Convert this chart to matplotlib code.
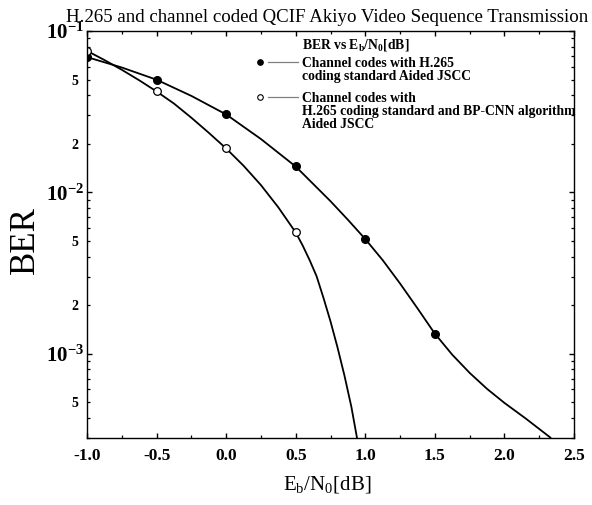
import matplotlib
matplotlib.use("Agg")
import matplotlib.pyplot as plt
from matplotlib.lines import Line2D
from matplotlib.ticker import FixedLocator, FixedFormatter, MultipleLocator

plt.rcParams['font.family'] = ['Liberation Serif', 'DejaVu Serif']
plt.rcParams['mathtext.fontset'] = 'custom'
plt.rcParams['mathtext.rm'] = 'Liberation Serif'
plt.rcParams['mathtext.bf'] = 'Liberation Serif:bold'

# ---- data ----
snr_marks = [-1.0, -0.5, 0.0, 0.5, 1.0, 1.5]
ber_h265 = [0.0689, 0.0499, 0.0304, 0.0145, 0.00513, 0.00133]

snr_marks_cnn = [-1.0, -0.5, 0.0, 0.5]
ber_h265_cnn = [0.0753, 0.0422, 0.0187, 0.00564]

# curves
curve_x_h265 = [-1.0, -0.75, -0.5, -0.25, 0.0, 0.25, 0.5, 0.75, 0.875, 1.0, 1.125, 1.25, 1.375,
                1.5, 1.625, 1.75, 1.875, 2.0, 2.15, 2.33]
curve_y_h265 = [0.0689, 0.0594, 0.0499, 0.0396, 0.0304, 0.0214, 0.01445, 0.00881, 0.00676, 0.00513,
                0.00380, 0.00272, 0.00191, 0.00133, 0.000985, 0.000760, 0.000605, 0.000495,
                0.000398, 0.000302]

curve_x_cnn = [-1.0, -0.875, -0.75, -0.625, -0.5, -0.375, -0.25, -0.125, 0.0, 0.125, 0.25, 0.375,
               0.5, 0.55, 0.6, 0.65, 0.7, 0.75, 0.8, 0.85, 0.9, 0.94]
curve_y_cnn = [0.0753, 0.0661, 0.0575, 0.0495, 0.0422, 0.0355, 0.0290, 0.0234, 0.0187, 0.01462,
               0.01109, 0.00807, 0.00564, 0.00468, 0.00380, 0.00302, 0.00221, 0.001585, 0.001096,
               0.000733, 0.000468, 0.000302]

legend_title = r"BER vs E$_\mathregular{b}$/N$_\mathregular{0}$[dB]"
legend_labels = ["Channel codes with H.265\ncoding standard Aided JSCC",
                 "Channel codes with\nH.265 coding standard and BP-CNN algorithm\nAided JSCC"]
title = "H.265 and channel coded QCIF Akiyo Video Sequence Transmission"
x_ticks = [-1.0, -0.5, 0.0, 0.5, 1.0, 1.5, 2.0, 2.5]

W, H = 592, 505
fig = plt.figure(figsize=(W / 100, H / 100), dpi=100)
L, R, T, B = 87, 574, 31, 438
ax = fig.add_axes([L / W, 1 - B / H, (R - L) / W, (B - T) / H])


def axc(px, py):
    return ((px - L) / (R - L), (B - py) / (B - T))


ax.plot(curve_x_h265, curve_y_h265, color='black', lw=1.3)
ax.plot(curve_x_cnn, curve_y_cnn, color='black', lw=1.3)
ax.plot(snr_marks, ber_h265, 'o', color='black', ms=5.5, mfc='black', mec='black')
ax.plot(snr_marks_cnn, ber_h265_cnn, 'o', color='black', ms=5.5, mfc='white', mec='black', mew=0.9)

ax.set_yscale('log')
ax.set_xlim(-1.0, 2.5)
ax.set_ylim(3.0e-4, 0.1)

ax.set_xticks(x_ticks)
ax.set_xticklabels([f"{v:.1f}" for v in x_ticks], fontsize=12.5, fontweight='bold')
ax.xaxis.set_minor_locator(MultipleLocator(0.25))

ax.yaxis.set_major_locator(FixedLocator([1e-3, 1e-2, 1e-1]))
ax.yaxis.set_major_formatter(FixedFormatter([r"$\mathbf{10^{-3}}$", r"$\mathbf{10^{-2}}$", r"$\mathbf{10^{-1}}$"]))
minor_vals = []
minor_labs = []
for d in [1e-4, 1e-3, 1e-2]:
    for s in range(2, 10):
        v = s * d
        if 3.0e-4 <= v <= 0.1:
            minor_vals.append(v)
            minor_labs.append(str(s) if s in (2, 5) else "")
ax.yaxis.set_minor_locator(FixedLocator(minor_vals))
ax.yaxis.set_minor_formatter(FixedFormatter(minor_labs))
for lab in ax.get_yticklabels():
    lab.set_fontsize(15)
for lab in ax.get_yticklabels(minor=True):
    lab.set_fontsize(10)
    lab.set_fontweight('bold')

ax.tick_params(which='both', direction='in', top=True, right=True, color='black')
ax.tick_params(which='major', length=3.5, width=1.0)
ax.tick_params(which='minor', length=2.2, width=0.9)
ax.tick_params(axis='y', which='major', pad=2)
ax.tick_params(axis='y', which='minor', pad=6)
ax.tick_params(axis='x', which='major', pad=7)
for sp in ax.spines.values():
    sp.set_linewidth(1.0)

ax.set_ylabel("BER", fontsize=25)
ax.yaxis.set_label_coords(*axc(42, 240))
ax.set_xlabel(r"E$_\mathregular{b}$/N$_\mathregular{0}$[dB]", fontsize=15)
ax.xaxis.set_label_coords(*axc(327, 475))
fig.text(327 / W, 1 - 18 / H, title, fontsize=13.6, ha='center', va='center')

# legend (drawn by hand so that markers align with the first text line)
fs_leg = 9.8
ax.text(*axc(302, 37), legend_title, transform=ax.transAxes, fontsize=fs_leg,
        fontweight='bold', ha='left', va='top')
entry_tops = [57, 92]
entry_marker_y = [62, 97]
entry_mfc = ['black', 'white']
for lbl, ty, my, mfc in zip(legend_labels, entry_tops, entry_marker_y, entry_mfc):
    ax.text(*axc(302, ty), lbl, transform=ax.transAxes, fontsize=fs_leg, fontweight='bold',
            ha='left', va='top', linespacing=1.0)
    x0, y0 = axc(268, my)
    x1, _ = axc(298, my)
    ax.add_line(Line2D([x0, x1], [y0, y0], transform=ax.transAxes, color='gray', lw=0.9))
    mx, _ = axc(260, my)
    ax.add_line(Line2D([mx], [y0], transform=ax.transAxes, ls='none', marker='o', ms=4,
                       mfc=mfc, mec='black', mew=0.8))

fig.savefig("out.png", dpi=100)
